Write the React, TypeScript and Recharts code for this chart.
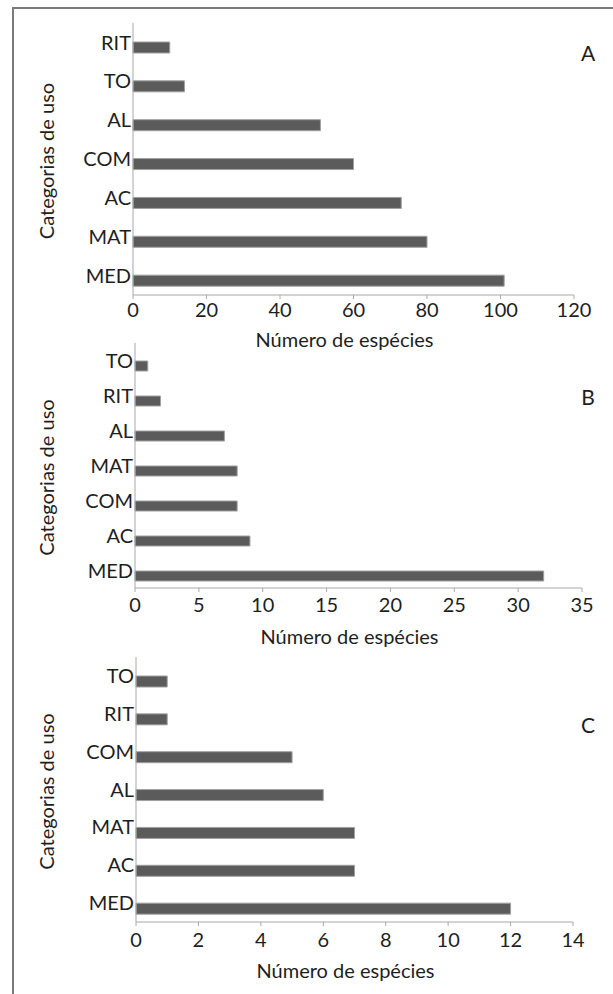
import React from 'react';
import { BarChart, Bar, XAxis, YAxis } from 'recharts';

// panel A
const catsA = ['RIT', 'TO', 'AL', 'COM', 'AC', 'MAT', 'MED'];
const valsA = [10, 14, 51, 60, 73, 80, 101];
const ticksA = [0, 20, 40, 60, 80, 100, 120];

// panel B
const catsB = ['TO', 'RIT', 'AL', 'MAT', 'COM', 'AC', 'MED'];
const valsB = [1, 2, 7, 8, 8, 9, 32];
const ticksB = [0, 5, 10, 15, 20, 25, 30, 35];

// panel C
const catsC = ['TO', 'RIT', 'COM', 'AL', 'MAT', 'AC', 'MED'];
const valsC = [1, 1, 5, 6, 7, 7, 12];
const ticksC = [0, 2, 4, 6, 8, 10, 12, 14];

const bandTicks = [0, 1, 2, 3, 4, 5, 6, 7];

const axisColor = '#a8a8a8';
const textColor = '#1e1e1e';
const FONT = 'Lato, "Open Sans", sans-serif';

interface PanelProps {
  cats: string[];
  vals: number[];
  ticks: number[];
  letter: string;
  top: number;
  height: number;
  plotTop: number;
  plotLeft: number;
  plotRight: number;
  barSize: number;
  tickMargin: number;
  titleDy: number;
  yLabelDy: number;
  letterY: number;
}

function Panel(p: PanelProps) {
  const data = p.cats.map((c, i) => ({ cat: c, pad: 0, value: p.vals[i] }));
  const max = p.ticks[p.ticks.length - 1];
  return (
    <div style={{ position: 'absolute', left: 0, top: p.top, width: 613, height: p.height }}>
      <BarChart
        width={613}
        height={p.height}
        data={data}
        layout="vertical"
        barGap={0}
        margin={{ top: p.plotTop - p.top, right: 613 - p.plotRight, bottom: 0, left: 0 }}
      >
        {/* boundary ticks between categories, Excel style */}
        <YAxis
          yAxisId="grid"
          type="number"
          domain={[0, 7]}
          ticks={bandTicks}
          width={0}
          tick={false}
          axisLine={false}
          tickSize={4}
          tickLine={{ stroke: axisColor }}
          allowDataOverflow
        />
        <YAxis
          yAxisId="cat"
          type="category"
          dataKey="cat"
          width={p.plotLeft}
          tickSize={0}
          tickMargin={2}
          tickLine={false}
          axisLine={{ stroke: axisColor }}
          tick={{ fill: textColor, fontSize: 20 }}
          interval={0}
          label={{
            value: 'Categorias de uso',
            angle: -90,
            position: 'center',
            dx: 47 - p.plotLeft / 2,
            dy: p.yLabelDy,
            fill: textColor,
            fontSize: 20,
          }}
        />
        <XAxis
          type="number"
          domain={[0, max]}
          ticks={p.ticks}
          height={60}
          tickSize={4}
          tickMargin={p.tickMargin}
          axisLine={{ stroke: axisColor }}
          tickLine={{ stroke: axisColor }}
          tick={{ fill: textColor, fontSize: 20 }}
          label={{
            value: 'Número de espécies',
            position: 'center',
            dx: -9,
            dy: p.titleDy,
            fill: textColor,
            fontSize: 20,
          }}
        />
        <Bar yAxisId="cat" dataKey="pad" barSize={p.barSize} fill="none" isAnimationActive={false} />
        <Bar
          yAxisId="cat"
          dataKey="value"
          barSize={p.barSize}
          fill="#5b5b5b"
          stroke="#a0a0a0"
          strokeWidth={1}
          isAnimationActive={false}
        />
      </BarChart>
      <div
        style={{
          position: 'absolute',
          left: 578,
          width: 20,
          top: p.letterY - p.top - 10.5,
          lineHeight: '20px',
          fontSize: 21,
          textAlign: 'center',
          color: textColor,
        }}
      >
        {p.letter}
      </div>
    </div>
  );
}

export default function App() {
  return (
    <div
      style={{
        position: 'absolute',
        left: 0,
        top: 0,
        width: 613,
        height: 994,
        background: '#fff',
        fontFamily: FONT,
        overflow: 'hidden',
      }}
    >
      <div
        style={{
          position: 'absolute',
          left: 12,
          top: 7,
          width: 620,
          height: 1000,
          borderTop: '2px solid #7b7b7b',
          borderLeft: '2px solid #7b7b7b',
        }}
      />
      <Panel
        cats={catsA}
        vals={valsA}
        ticks={ticksA}
        letter="A"
        top={0}
        height={355}
        plotTop={23}
        plotLeft={133}
        plotRight={574}
        barSize={11}
        tickMargin={4}
        titleDy={15}
        yLabelDy={2}
        letterY={53}
      />
      <Panel
        cats={catsB}
        vals={valsB}
        ticks={ticksB}
        letter="B"
        top={330}
        height={318}
        plotTop={343}
        plotLeft={135}
        plotRight={582}
        barSize={10}
        tickMargin={6}
        titleDy={19}
        yLabelDy={12}
        letterY={397}
      />
      <Panel
        cats={catsC}
        vals={valsC}
        ticks={ticksC}
        letter="C"
        top={645}
        height={337}
        plotTop={657}
        plotLeft={136}
        plotRight={573}
        barSize={11}
        tickMargin={7}
        titleDy={19}
        yLabelDy={2}
        letterY={725}
      />
    </div>
  );
}
